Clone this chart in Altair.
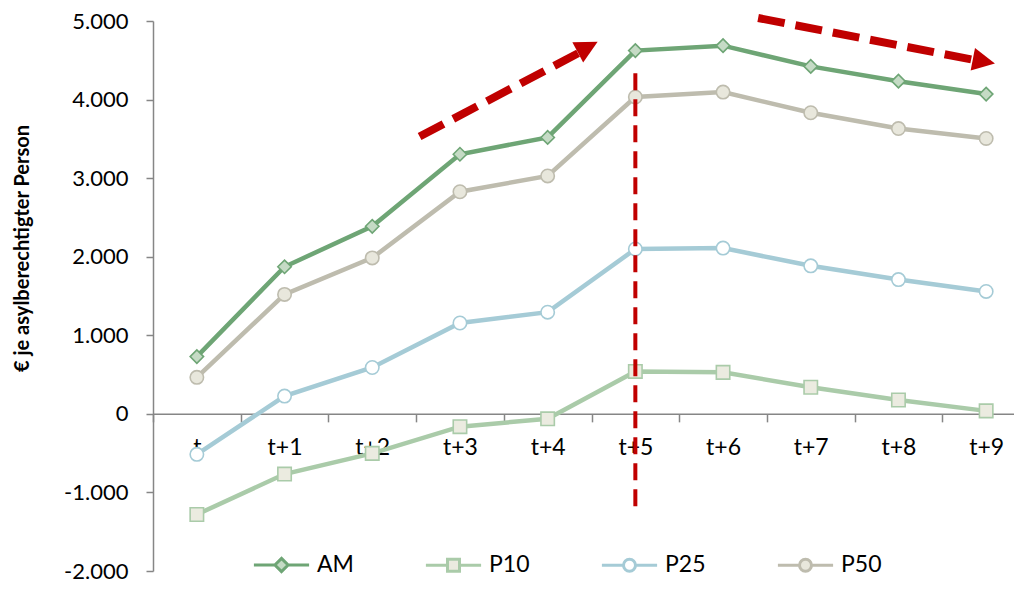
import math
import altair as alt
import pandas as pd

# ---------------- data ----------------
periods = ["t", "t+1", "t+2", "t+3", "t+4", "t+5", "t+6", "t+7", "t+8", "t+9"]
series_names = ["AM", "P10", "P25", "P50"]
am = [729, 1872, 2387, 3304, 3518, 4623, 4686, 4422, 4234, 4070]
p10 = [-1281, -766, -503, -163, -63, 540, 528, 339, 176, 38]
p25 = [-515, 226, 590, 1156, 1294, 2098, 2110, 1884, 1709, 1558]
p50 = [465, 1520, 1985, 2827, 3028, 4033, 4095, 3832, 3631, 3505]
y_ticks = [-2000, -1000, 0, 1000, 2000, 3000, 4000, 5000]
y_title = "€ je asylberechtigter Person"

# annotation arrows (x in category index units, y in €)
arrow_x0 = [2.54, 6.40]
arrow_y0 = [3530, 5038]
arrow_x1 = [4.40, 8.86]
arrow_y1 = [4620, 4505]
tip_x = [4.57, 9.10]
tip_y = [4736, 4460]
vline_x = [5]
vline_y0 = [4334]
vline_y1 = [-1219]

# ---------------- style ----------------
line_colors = ["#6ea575", "#aacba9", "#a5cbd6", "#bebcae"]
marker_fills = ["#c5dbc5", "#ebebe0", "#ffffff", "#e8e7dc"]
marker_shapes = ["diamond", "square", "circle", "circle"]
marker_sizes = [180, 180, 165, 195]
legend_shapes = [
    "M-4.6,0H-1.1M1.1,0H4.6M0,-1.1L1.1,0L0,1.1L-1.1,0Z",
    "M-4.6,0H-1M1,0H4.6M-1,-1H1V1H-1Z",
    "M-4.6,0H-1M1,0H4.6M1,0A1,1,0,1,1,-1,0A1,1,0,1,1,1,0Z",
    "M-4.6,0H-1M1,0H4.6M1,0A1,1,0,1,1,-1,0A1,1,0,1,1,1,0Z",
]
RED = "#c00000"
AXIS_GRAY = "#868686"
FONT = "Lato"

W, H = 877, 550
Y_MIN, Y_MAX = -2000, 5000
zero_offset = -(0 - Y_MIN) / (Y_MAX - Y_MIN) * H

rows = []
for name, vals in zip(series_names, [am, p10, p25, p50]):
    for p, v in zip(periods, vals):
        rows.append({"period": p, "series": name, "value": v})
df = pd.DataFrame(rows)
legend_df = pd.DataFrame({"series": series_names})

px_x = W / len(periods)
px_y = H / (Y_MAX - Y_MIN)
angles = [
    math.degrees(math.atan2((tx - x0) * px_x, (ty - y0) * px_y))
    for x0, y0, tx, ty in zip(arrow_x0, arrow_y0, tip_x, tip_y)
]
arrow_df = pd.DataFrame({"x0": arrow_x0, "y0": arrow_y0, "x1": arrow_x1, "y1": arrow_y1})
head_df = pd.DataFrame({"x": tip_x, "y": tip_y, "angle": angles})
vline_df = pd.DataFrame({"x": vline_x, "y0": vline_y0, "y1": vline_y1})

y_scale = alt.Scale(domain=[Y_MIN, Y_MAX], nice=False, zero=False)
x_band = alt.Scale(type="band", domain=periods, paddingInner=0, paddingOuter=0)
x_quant = alt.Scale(domain=[-0.5, len(periods) - 0.5], nice=False, zero=False)

y_axis = alt.Axis(
    values=y_ticks,
    labelExpr="replace(replace(format(datum.value, ',.0f'), ',', '.'), '\u2212', '-')",
    title=y_title,
    titleFont=FONT, titleFontSize=20, titleFontWeight="bold", titleColor="#000000",
    titleX=-131, titleY=227, titleAngle=-90, titleAlign="center", titleBaseline="middle",
    labelFont=FONT, labelFontSize=22, labelColor="#000000", labelPadding=18,
    domainColor=AXIS_GRAY, domainWidth=1.5, tickColor=AXIS_GRAY, tickWidth=1.5, tickSize=7,
    grid=False,
)
x_axis = alt.Axis(
    title=None, orient="bottom", offset=zero_offset, tickBand="extent",
    labelFont=FONT, labelFontSize=23, labelColor="#000000", labelPadding=15, labelAngle=0,
    domainColor=AXIS_GRAY, domainWidth=1.5, tickColor=AXIS_GRAY, tickWidth=1.5, tickSize=8,
    grid=False,
)

X_cat = alt.X("period:N", scale=x_band, axis=x_axis, sort=periods, title=None)


def Y(field):
    return alt.Y(field, scale=y_scale, axis=y_axis, title=y_title)


lines = alt.Chart(df).mark_line(strokeWidth=4.5).encode(
    x=X_cat,
    y=Y("value:Q"),
    color=alt.Color("series:N", scale=alt.Scale(domain=series_names, range=line_colors), legend=None),
    detail="series:N",
)

points = alt.Chart(df).mark_point(filled=True, opacity=1, strokeWidth=1.6).encode(
    x=X_cat,
    y=Y("value:Q"),
    shape=alt.Shape("series:N", scale=alt.Scale(domain=series_names, range=marker_shapes), legend=None),
    fill=alt.Fill("series:N", scale=alt.Scale(domain=series_names, range=marker_fills), legend=None),
    stroke=alt.Stroke("series:N", scale=alt.Scale(domain=series_names, range=line_colors), legend=None),
    size=alt.Size("series:N", scale=alt.Scale(domain=series_names, range=marker_sizes), legend=None),
)

leg = alt.Legend(
    title=None, orient="none", direction="horizontal", legendX=117, legendY=532,
    columns=4, symbolSize=144, symbolStrokeWidth=3, symbolOpacity=1,
    labelFont=FONT, labelFontSize=23, labelColor="#000000", labelOffset=24,
    columnPadding=65, labelLimit=200,
)
legend_layer = alt.Chart(legend_df).mark_point(filled=True, opacity=1, clip=True, strokeWidth=3).encode(
    x=alt.value(-500),
    y=alt.value(-500),
    shape=alt.Shape("series:N", scale=alt.Scale(domain=series_names, range=legend_shapes), legend=leg),
    fill=alt.Fill("series:N", scale=alt.Scale(domain=series_names, range=marker_fills), legend=leg),
    stroke=alt.Stroke("series:N", scale=alt.Scale(domain=series_names, range=line_colors), legend=leg),
)

base = alt.layer(lines, points, legend_layer).resolve_scale(
    shape="independent", fill="independent", stroke="independent"
)

X_q0 = alt.X("x0:Q", scale=x_quant, axis=None)
arrows = alt.Chart(arrow_df).mark_rule(color=RED, strokeWidth=8, strokeDash=[27, 11], strokeCap="butt").encode(
    x=X_q0,
    y=Y("y0:Q"),
    x2="x1:Q",
    y2="y1:Q",
)
heads = alt.Chart(head_df).mark_point(
    filled=True, opacity=1, color=RED, strokeWidth=0, size=625,
    shape="M0,0L0.92,1.8L-0.92,1.8Z",
).encode(
    x=alt.X("x:Q", scale=x_quant, axis=None),
    y=Y("y:Q"),
    angle=alt.Angle("angle:Q", scale=None),
)
vline = alt.Chart(vline_df).mark_rule(color=RED, strokeWidth=4, strokeDash=[17, 9], strokeCap="butt").encode(
    x=alt.X("x:Q", scale=x_quant, axis=None),
    y=Y("y0:Q"),
    y2="y1:Q",
)
ann = alt.layer(arrows, heads, vline)

chart = (
    alt.layer(base, ann)
    .resolve_scale(x="independent")
    .properties(
        width=W, height=H,
        padding={"left": 145, "top": 13, "right": -16, "bottom": 13},
        autosize=alt.AutoSizeParams(type="none"),
        background="#ffffff",
    )
    .configure_view(stroke=None)
)

chart.save("out.html", embed_options={"renderer": "svg", "actions": False})
